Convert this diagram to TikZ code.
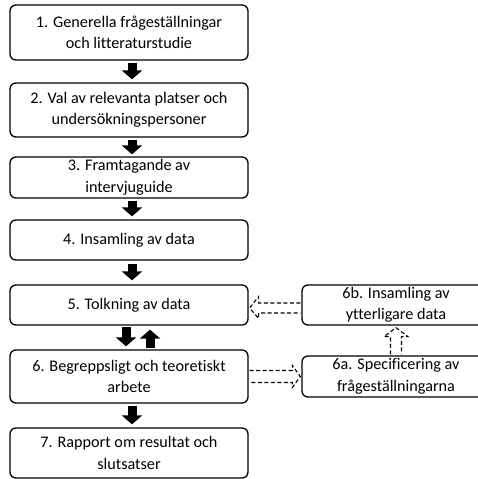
\documentclass[tikz,border=0pt]{standalone}
\usepackage{fontspec}
\setmainfont{Carlito}[Ligatures=NoCommon]
\usetikzlibrary{arrows.meta}
\begin{document}
\begin{tikzpicture}[x=1pt,y=-1pt,
  box/.style={draw,line width=1.3pt,rounded corners=6pt,align=center,inner sep=0pt,
    font=\fontsize{16.2}{21.5}\selectfont},
  blk/.style={line width=9pt,-{Triangle[length=9pt,width=20pt]}},
  dasharr/.style={draw,line width=1.1pt,dash pattern=on 4pt off 2.5pt,line join=miter}]
\useasboundingbox (0,0) rectangle (478,479);
\clip (0,0) rectangle (478,479);
\node[box,minimum width=238pt,minimum height=55pt] (b1) at (129,32.5) {1. Generella frågeställningar\\och litteraturstudie};
\node[box,minimum width=238pt,minimum height=54pt] (b2) at (129,110) {2. Val av relevanta platser och\\undersökningspersoner};
\node[box,minimum width=238pt,minimum height=41pt] (b3) at (129,177.5) {3. Framtagande av\\intervjuguide};
\node[box,minimum width=238pt,minimum height=40pt] (b4) at (129,240) {4. Insamling av data};
\node[box,minimum width=238pt,minimum height=40pt] (b5) at (129,305) {5. Tolkning av data};
\node[box,minimum width=238pt,minimum height=53pt] (b6) at (129,376.5) {6. Begreppsligt och teoretiskt\\arbete};
\node[box,minimum width=238pt,minimum height=50pt] (b7) at (129,453) {7. Rapport om resultat och\\slutsatser};
\node[box,minimum width=188pt,minimum height=40pt] (b6b) at (396,305) {6b. Insamling av\\ytterligare data};
\node[box,minimum width=188pt,minimum height=41pt] (b6a) at (396,376.5) {6a. Specificering av\\frågeställningarna};
% solid block arrows
\draw[blk] ([xshift=3pt,yshift=-2pt]b1.south) -- ([xshift=3pt,yshift=3pt]b2.north);
\draw[blk] ([xshift=3pt,yshift=-2pt]b2.south) -- ([xshift=3pt,yshift=2pt]b3.north);
\draw[blk] ([xshift=3pt,yshift=-2pt]b3.south) -- ([xshift=3pt,yshift=3pt]b4.north);
\draw[blk] ([xshift=3pt,yshift=-3pt]b4.south) -- ([xshift=3pt,yshift=4pt]b5.north);
\draw[blk] ([xshift=-3pt,yshift=-1pt]b5.south) -- ([xshift=-3pt,yshift=3pt]b6.north);
\draw[blk] ([xshift=21pt,yshift=1pt]b6.north) -- ([xshift=21pt,yshift=-4pt]b5.south);
\draw[blk] ([xshift=3pt,yshift=-2pt]b6.south) -- ([xshift=3pt,yshift=3pt]b7.north);
% dashed outlined arrows
\draw[dasharr] ([xshift=1pt,yshift=6pt]b6.east) -- ([xshift=-9pt,yshift=6pt]b6a.west) -- ([xshift=-9pt,yshift=11pt]b6a.west) -- ([xshift=-1pt]b6a.west) -- ([xshift=-9pt,yshift=-11pt]b6a.west) -- ([xshift=-9pt,yshift=-6pt]b6a.west) -- ([xshift=1pt,yshift=-6pt]b6.east);
\draw[dasharr] ([xshift=-1pt,yshift=2pt]b6b.west) -- ([xshift=10pt,yshift=2pt]b5.east) -- ([xshift=10pt,yshift=8.5pt]b5.east) -- ([xshift=1pt,yshift=-3pt]b5.east) -- ([xshift=10pt,yshift=-13.5pt]b5.east) -- ([xshift=10pt,yshift=-8pt]b5.east) -- ([xshift=-1pt,yshift=-8pt]b6b.west);
\draw[dasharr] ([xshift=-5.5pt,yshift=1pt]b6a.north) -- ([xshift=-5.5pt,yshift=-11pt]b6b.south) -- ([xshift=-12pt,yshift=-11pt]b6b.south) -- ([yshift=-2pt]b6b.south) -- ([xshift=12pt,yshift=-11pt]b6b.south) -- ([xshift=5.5pt,yshift=-11pt]b6b.south) -- ([xshift=5.5pt,yshift=1pt]b6a.north);
\end{tikzpicture}
\end{document}
